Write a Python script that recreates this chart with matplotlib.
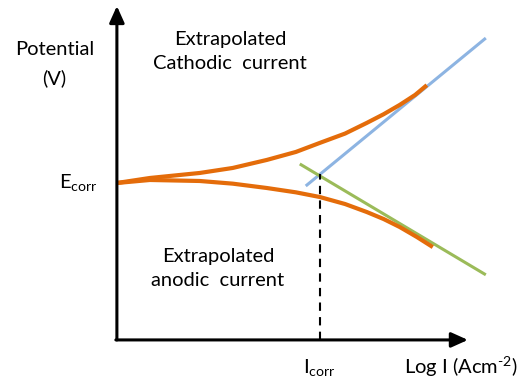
import matplotlib.pyplot as plt

plt.rcParams['font.family'] = ['Lato', 'DejaVu Sans']
plt.rcParams['mathtext.fontset'] = 'custom'
plt.rcParams['mathtext.rm'] = 'Lato'
plt.rcParams['mathtext.it'] = 'Lato:italic'

# Tafel plot data (arbitrary units: log I on x, potential on y)
cath_x = [0, 0.94, 2.36, 3.30, 4.27, 5.10, 5.78, 6.50, 7.12, 7.60, 8.06, 8.50, 8.83]
cath_y = [4.70, 4.85, 5.00, 5.15, 5.39, 5.63, 5.90, 6.18, 6.50, 6.76, 7.04, 7.34, 7.63]
anod_x = [0, 0.94, 2.36, 3.30, 4.27, 5.10, 5.78, 6.50, 7.12, 7.60, 8.06, 8.55, 9.00]
anod_y = [4.70, 4.79, 4.76, 4.68, 4.55, 4.42, 4.28, 4.07, 3.83, 3.62, 3.38, 3.08, 2.78]
blue_x = [5.38, 10.51]
blue_y = [4.61, 9.04]
green_x = [5.21, 10.51]
green_y = [5.27, 1.95]
i_corr = 5.78
e_corr_line = 4.97
e_corr = 4.70

fig = plt.figure(figsize=(5.29, 3.81), dpi=100)
ax = fig.add_axes([0, 0, 1, 1])
ax.set_xlim(-3.33, 11.74)
ax.set_ylim(-1.23, 10.18)
ax.axis('off')

# axes with arrows
arw = dict(arrowstyle='-|>,head_length=1.0,head_width=0.45', lw=2.2, color='black',
           shrinkA=0, shrinkB=0)
ax.annotate('', xy=(0, 10.0), xytext=(0, 0), arrowprops=arw)
ax.annotate('', xy=(10.0, 0), xytext=(-0.03, 0), arrowprops=arw)

ax.plot(blue_x, blue_y, color='#8DB4E2', lw=2.2, solid_capstyle='butt')
ax.plot(green_x, green_y, color='#9BBB59', lw=2.2, solid_capstyle='butt')
ax.plot(cath_x, cath_y, color='#E46C0A', lw=3.0, solid_capstyle='butt')
ax.plot(anod_x, anod_y, color='#E46C0A', lw=3.0, solid_capstyle='butt')
ax.plot([i_corr, i_corr], [0, e_corr_line], color='black', lw=1.5, ls=(0, (4, 3)))

fs = 14.5
ax.text(-1.78, 8.25, 'Potential\n(V)', ha='center', va='center', fontsize=fs,
        linespacing=1.75)
ax.text(-0.55, e_corr, r'E$_{\mathrm{corr}}$', ha='right', va='center', fontsize=fs)
ax.text(3.22, 8.65, 'Extrapolated\nCathodic  current', ha='center', va='center',
        fontsize=fs, linespacing=1.5)
ax.text(2.88, 2.13, 'Extrapolated\nanodic  current', ha='center', va='center',
        fontsize=fs, linespacing=1.5)
ax.text(i_corr, -0.84, r'I$_{\mathrm{corr}}$', ha='center', va='center', fontsize=fs)
ax.text(9.80, -0.80, 'Log I (Acm$^{\\mathrm{\u2010}2}$)', ha='center', va='center',
        fontsize=fs)

fig.savefig('out.png', dpi=100)
